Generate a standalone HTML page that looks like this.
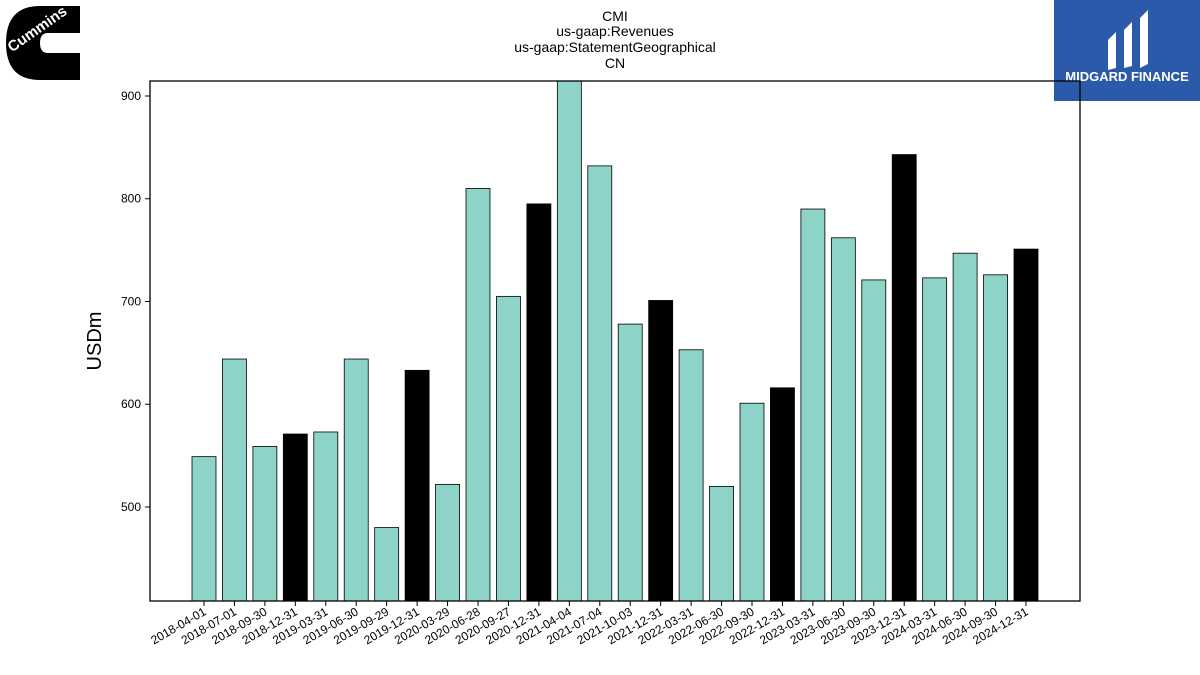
<!DOCTYPE html>
<html><head><meta charset="utf-8"><style>
body{margin:0;background:#fff;font-family:"Liberation Sans","DejaVu Sans",sans-serif;}
svg{display:block}
</style></head><body>
<svg id="chart" width="1200" height="675" viewBox="0 0 1200 675">
<g>
<path d="M80,6 L40,6 Q6,6 6,43 Q6,80 40,80 L80,80 L80,53 L48,53 Q40,53 40,43 Q40,33 48,33 L80,33 Z" fill="#000"/>
<text x="40" y="33" fill="#fff" font-size="15" font-weight="bold" transform="rotate(-35 40 33)" text-anchor="middle">Cummins</text>
</g>
<g>
<rect x="1054" y="0" width="146" height="101" fill="#2c5aab"/>
<path d="M1108,40 L1116,32 L1116,68 L1108,70 Z M1124,30 L1132,22 L1132,66 L1124,68 Z M1140,18 L1148,10 L1148,64 L1140,68 Z" fill="#fff"/>
<text x="1127" y="81" fill="#fff" font-size="13" font-weight="bold" text-anchor="middle">MIDGARD FINANCE</text>
</g>
<g font-size="14" text-anchor="middle" fill="#000">
<text x="615" y="21">CMI</text>
<text x="615" y="36">us-gaap:Revenues</text>
<text x="615" y="52">us-gaap:StatementGeographical</text>
<text x="615" y="68">CN</text>
</g>
<text x="101" y="341" font-size="20" text-anchor="middle" transform="rotate(-90 101 341)">USDm</text>
<g id="bars"></g><g id="yticks"></g><g id="xticks"></g>
<rect x="150" y="81" width="930" height="520" fill="none" stroke="#000" stroke-width="1.3"/>
</svg>
<script>
const categories=["2018-04-01","2018-07-01","2018-09-30","2018-12-31","2019-03-31","2019-06-30","2019-09-29","2019-12-31","2020-03-29","2020-06-28","2020-09-27","2020-12-31","2021-04-04","2021-07-04","2021-10-03","2021-12-31","2022-03-31","2022-06-30","2022-09-30","2022-12-31","2023-03-31","2023-06-30","2023-09-30","2023-12-31","2024-03-31","2024-06-30","2024-09-30","2024-12-31"];
const values=[549,644,559,571,573,644,480,633,522,810,705,795,925,832,678,701,653,520,601,616,790,762,721,843,723,747,726,751];
const yTicks=[500,600,700,800,900];
const NS="http://www.w3.org/2000/svg";
const yMin=408.5,yMax=914.6,plotTop=81,plotBot=601;
function yPos(v){return plotBot-(v-yMin)/(yMax-yMin)*(plotBot-plotTop);}
function xPos(i){return 204+i*(1026-204)/(categories.length-1);}
function mk(t,a,p){const e=document.createElementNS(NS,t);for(const k in a)e.setAttribute(k,a[k]);p.appendChild(e);return e;}
const bars=document.getElementById('bars'),yt=document.getElementById('yticks'),xt=document.getElementById('xticks');
values.forEach((v,i)=>{
 const yy=Math.max(yPos(v),plotTop);
 const r=mk('rect',{x:xPos(i)-12,y:yy,width:24,height:plotBot-yy,fill:categories[i].endsWith('12-31')?'#000':'#8dd3c7',stroke:'#000','stroke-width':0.8},bars);
 
 
});
yTicks.forEach(t=>{
 const g=mk('g',{},yt);
 
 
 mk('line',{x1:145,x2:150,y1:yPos(t),y2:yPos(t),stroke:'#000'},g);
 const tx=mk('text',{x:141,y:yPos(t)+4,'font-size':12,'text-anchor':'end'},g);tx.textContent=t;
});
categories.forEach((c,i)=>{
 const g=mk('g',{},xt);
 
 
 mk('line',{x1:xPos(i),x2:xPos(i),y1:601,y2:606,stroke:'#000'},g);
 const tx=mk('text',{x:xPos(i)+3,y:614,'font-size':12,'text-anchor':'end',transform:`rotate(-30 ${xPos(i)+3} 614)`},g);tx.textContent=c;
});
</script>
</body></html>
